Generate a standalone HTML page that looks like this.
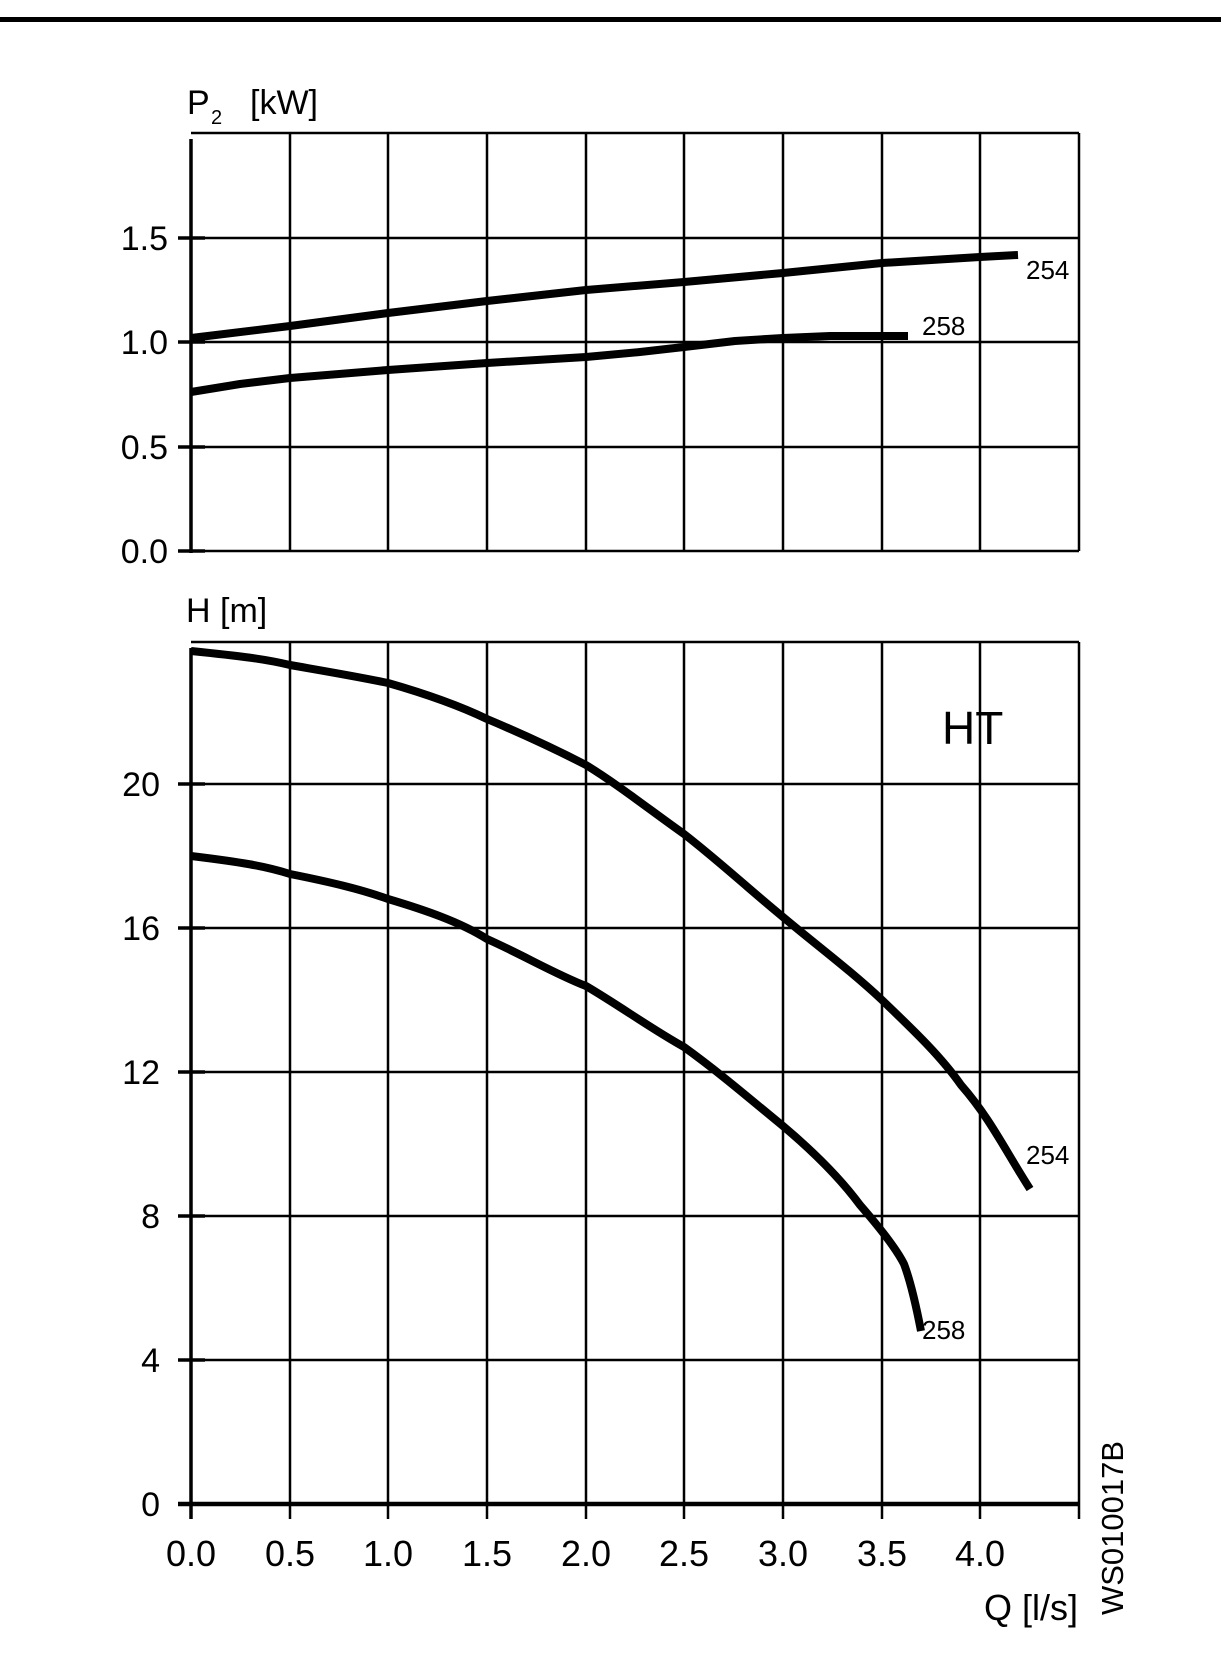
<!DOCTYPE html>
<html><head><meta charset="utf-8"><style>html,body{margin:0;padding:0;background:#fff}</style></head>
<body>
<svg width="1221" height="1666" viewBox="0 0 1221 1666" xmlns="http://www.w3.org/2000/svg" font-family="Liberation Sans, Arial, sans-serif">
<rect width="1221" height="1666" fill="#fff"/>
<rect x="0" y="17" width="1221" height="5" fill="#000"/>
<g stroke="#000" stroke-width="2.5" fill="none">
<line x1="191" y1="133" x2="1079" y2="133"/>
<line x1="191" y1="238" x2="1079" y2="238"/>
<line x1="191" y1="342" x2="1079" y2="342"/>
<line x1="191" y1="447" x2="1079" y2="447"/>
<line x1="191" y1="551" x2="1079" y2="551"/>
<line x1="191" y1="642" x2="1079" y2="642"/>
<line x1="191" y1="784" x2="1079" y2="784"/>
<line x1="191" y1="928" x2="1079" y2="928"/>
<line x1="191" y1="1072" x2="1079" y2="1072"/>
<line x1="191" y1="1216" x2="1079" y2="1216"/>
<line x1="191" y1="1360" x2="1079" y2="1360"/>
<line x1="290" y1="133" x2="290" y2="551"/><line x1="388" y1="133" x2="388" y2="551"/>
<line x1="487" y1="133" x2="487" y2="551"/><line x1="586" y1="133" x2="586" y2="551"/>
<line x1="684" y1="133" x2="684" y2="551"/><line x1="783" y1="133" x2="783" y2="551"/>
<line x1="882" y1="133" x2="882" y2="551"/><line x1="980" y1="133" x2="980" y2="551"/>
<line x1="1079" y1="133" x2="1079" y2="551"/>
<line x1="290" y1="642" x2="290" y2="1519"/><line x1="388" y1="642" x2="388" y2="1519"/>
<line x1="487" y1="642" x2="487" y2="1519"/><line x1="586" y1="642" x2="586" y2="1519"/>
<line x1="684" y1="642" x2="684" y2="1519"/><line x1="783" y1="642" x2="783" y2="1519"/>
<line x1="882" y1="642" x2="882" y2="1519"/><line x1="980" y1="642" x2="980" y2="1519"/>
<line x1="1079" y1="642" x2="1079" y2="1519"/>
</g>
<g stroke="#000" stroke-width="3.5" fill="none">
<line x1="191" y1="139" x2="191" y2="553"/>
<line x1="191" y1="648" x2="191" y2="1519"/>
<line x1="178" y1="1504" x2="1079" y2="1504" stroke-width="4.5"/>
<line x1="178" y1="238" x2="205" y2="238"/><line x1="178" y1="342" x2="205" y2="342"/>
<line x1="178" y1="447" x2="205" y2="447"/><line x1="178" y1="551" x2="205" y2="551"/>
<line x1="178" y1="784" x2="205" y2="784"/><line x1="178" y1="928" x2="205" y2="928"/>
<line x1="178" y1="1072" x2="205" y2="1072"/><line x1="178" y1="1216" x2="205" y2="1216"/>
<line x1="178" y1="1360" x2="205" y2="1360"/>
</g>
<g stroke="#000" stroke-width="8" fill="none" stroke-linejoin="round">
<polyline points="191,338 290,326 388,313 487,301 586,290 684,282 783,273 882,263 980,257 1018,255"/>
<polyline points="191,392 240,384 290,378 388,370 487,363 586,357 640,352 684,347 735,341 783,338 830,336 908,336"/>
<path d="M191,651 C240,656 265,659 290,665 C330,672 360,677 388,683 C430,695 460,706 487,719 C525,735 555,749 586,765 C620,786 650,810 684,834 C720,862 750,890 783,917 C815,944 850,970 882,1000 C910,1027 940,1055 961,1085 C990,1118 1005,1150 1030,1189"/>
<path d="M191,856 C240,862 265,866 290,874 C330,882 360,889 388,899 C425,910 460,922 487,939 C525,956 555,974 586,986 C620,1006 650,1028 684,1047 C720,1073 750,1099 783,1126 C815,1153 840,1178 860,1205 C880,1228 897,1250 904,1264 C910,1280 915,1300 921,1331"/>
</g>
<g font-size="34" fill="#000" text-anchor="end">
<text x="168" y="250">1.5</text><text x="168" y="354">1.0</text>
<text x="168" y="459">0.5</text><text x="168" y="563">0.0</text>
<text x="160" y="796">20</text><text x="160" y="940">16</text>
<text x="160" y="1084">12</text><text x="160" y="1228">8</text>
<text x="160" y="1372">4</text><text x="160" y="1516">0</text>
</g>
<g font-size="36" fill="#000" text-anchor="middle">
<text x="191" y="1566">0.0</text><text x="290" y="1566">0.5</text><text x="388" y="1566">1.0</text>
<text x="487" y="1566">1.5</text><text x="586" y="1566">2.0</text><text x="684" y="1566">2.5</text>
<text x="783" y="1566">3.0</text><text x="882" y="1566">3.5</text><text x="980" y="1566">4.0</text>
</g>
<text x="1078" y="1620" font-size="36" text-anchor="end">Q [l/s]</text>
<text transform="translate(1123,1615) rotate(-90)" font-size="31">WS010017B</text>
<text x="187" y="114" font-size="34">P</text>
<text x="211" y="124" font-size="20">2</text>
<text x="250" y="114" font-size="34">[kW]</text>
<text x="186" y="622" font-size="34">H [m]</text>
<text x="942" y="744" font-size="46">HT</text>
<g font-size="26">
<text x="1026" y="279">254</text><text x="922" y="335">258</text>
<text x="1026" y="1164">254</text><text x="922" y="1339">258</text>
</g>
</svg>
</body></html>
